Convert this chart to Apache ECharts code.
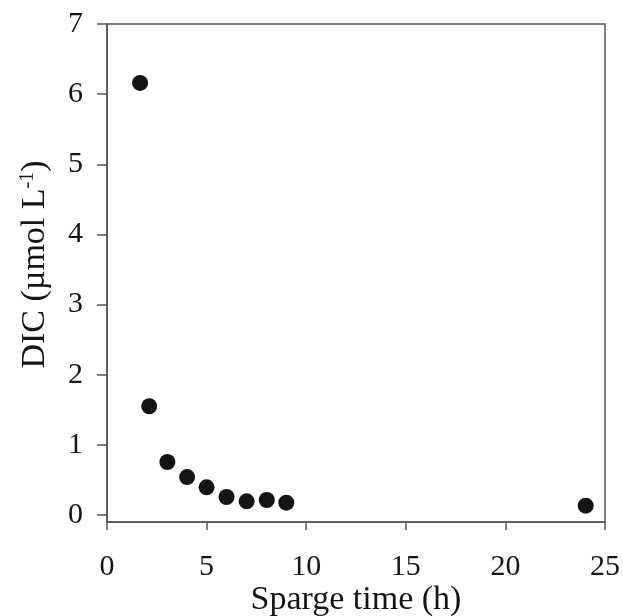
<!DOCTYPE html>
<html>
<head>
<meta charset="utf-8">
<script src="https://cdn.jsdelivr.net/npm/echarts@6/dist/echarts.min.js"></script>
<style>html,body{margin:0;padding:0;background:#fff}#c{width:623px;height:616px}</style>
</head>
<body>
<div id="c"></div>
<script>
const spargeTime = [1.66, 2.12, 3.03, 4.02, 5.0, 6.0, 7.01, 8.02, 9.0, 24.03];
const dic = [6.16, 1.55, 0.756, 0.54, 0.395, 0.257, 0.195, 0.214, 0.176, 0.133];
const xMin = 0, xMax = 25, xStep = 5;
const yMin = 0, yMax = 7, yStep = 1;

const chart = echarts.init(document.getElementById('c'), null, {renderer: 'canvas'});
const font = '"Liberation Serif", "Times New Roman", serif';
const axisColor = '#555';
const textColor = '#151515';
chart.setOption({
  backgroundColor: '#fff',
  animation: false,
  grid: [
    // frame grid (x axis sits a little below y = 0)
    {left: 107, top: 24, right: 18, bottom: 94, show: true, borderColor: axisColor, borderWidth: 1.5, backgroundColor: 'transparent', outerBoundsMode: 'none', containLabel: false},
    // data grid
    {left: 107, top: 24, right: 18, bottom: 101, show: false, outerBoundsMode: 'none', containLabel: false}
  ],
  xAxis: [{
    gridIndex: 0, type: 'value', min: xMin, max: xMax, interval: xStep,
    name: 'Sparge time (h)', nameLocation: 'middle', nameGap: 61, nameMoveOverlap: false,
    nameTextStyle: {fontFamily: font, fontSize: 34, color: textColor},
    axisLine: {show: true, lineStyle: {color: axisColor, width: 1.5}},
    axisTick: {show: true, inside: false, length: 8, lineStyle: {color: axisColor, width: 1.5}},
    axisLabel: {fontFamily: font, fontSize: 30, color: textColor, margin: 30},
    splitLine: {show: false}
  }, {
    gridIndex: 1, type: 'value', min: xMin, max: xMax, interval: xStep, show: false,
    splitLine: {show: false}
  }],
  yAxis: [{
    gridIndex: 0, type: 'value', min: 0, max: 1, show: true,
    axisLine: {show: true, lineStyle: {color: axisColor, width: 1.5}},
    axisTick: {show: false}, axisLabel: {show: false}, splitLine: {show: false}
  }, {
    gridIndex: 1, type: 'value', min: yMin, max: yMax, interval: yStep,
    name: 'DIC (µmol L{sup|-1})', nameLocation: 'middle', nameGap: 55, nameRotate: 90, nameMoveOverlap: false,
    nameTextStyle: {fontFamily: font, fontSize: 34, color: textColor, padding: [0, 0, 0, 10],
      rich: {sup: {fontFamily: font, fontSize: 20, color: textColor, verticalAlign: 'top', padding: [0,0,14,0]}}},
    axisLine: {show: false},
    axisTick: {show: true, inside: false, length: 10, lineStyle: {color: axisColor, width: 1.5}},
    axisLabel: {fontFamily: font, fontSize: 30, color: textColor, margin: 24},
    splitLine: {show: false}
  }],
  series: [{
    type: 'scatter', xAxisIndex: 1, yAxisIndex: 1,
    data: spargeTime.map((x, i) => [x, dic[i]]),
    symbol: 'circle', symbolSize: 16,
    itemStyle: {color: '#141414', opacity: 1}
  }]
});
</script>
</body>
</html>
